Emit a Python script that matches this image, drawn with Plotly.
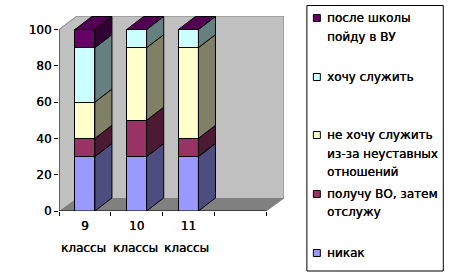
import plotly.graph_objects as go

categories = ["9", "10", "11"]
category_suffix = ["классы", "классы", "классы"]
series_names = ["никак", "получу ВО, затем отслужу", "не хочу служить из-за неуставных отношений", "хочу служить", "после школы пойду в ВУ"]
nikak = [30, 30, 30]
vo = [10, 20, 10]
ne_hochu = [20, 40, 50]
hochu = [30, 10, 10]
vu = [10, 0, 0]
series_values = [nikak, vo, ne_hochu, hochu, vu]
front_colors = ["#9999ff", "#993366", "#ffffcc", "#ccffff", "#660066"]
side_colors = ["#4d4d80", "#4d1a33", "#808066", "#668080", "#330033"]
top_color = "#520052"
y_ticks = [0, 20, 40, 60, 80, 100]
legend_lines = [
    (["после школы", "пойду в ВУ"], [18, 37], "#660066"),
    (["хочу служить"], [77], "#ccffff"),
    (["не хочу служить", "из-за неуставных", "отношений"], [135, 154, 172], "#ffffcc"),
    (["получу ВО, затем", "отслужу"], [194, 212], "#993366"),
    (["никак"], [253], "#9999ff"),
]

W, H = 454, 276
L, T, R, B = 58.5, 16, 284.5, 211
XMAX, YMAX = 4.346, 107.44
DX, DY = 0.33, 7.2
BW = 0.385
FONT = "DejaVu Sans"
SHADOW = "0.3px 0 0 black"
xs = [i + 0.5 for i in range(len(categories))]

fig = go.Figure()
for name, vals, c in zip(series_names, series_values, front_colors):
    fig.add_bar(x=xs, y=vals, name=name, width=BW, marker=dict(color=c, line=dict(color="black", width=1)), showlegend=False)

for xi, x in enumerate(xs):
    base = 0
    xr = x + BW / 2
    xl = x - BW / 2
    for vals, c in zip(series_values, side_colors):
        t = base + vals[xi]
        if vals[xi] > 0:
            fig.add_scatter(x=[xr, xr + DX, xr + DX, xr, xr], y=[base, base + DY, t + DY, t, base], mode="lines", fill="toself",
                            fillcolor=c, line=dict(color="black", width=1), showlegend=False, hoverinfo="skip")
        base = t
    fig.add_scatter(x=[xl, xr, xr + DX, xl + DX, xl], y=[base, base, base + DY, base + DY, base], mode="lines", fill="toself",
                    fillcolor=top_color, line=dict(color="black", width=1), showlegend=False, hoverinfo="skip")

shapes = [
    dict(type="path", layer="below", xref="x", yref="y", path=f"M0,0 L{DX*1.05},{DY} L{DX*1.05},{YMAX} L0,100 Z", fillcolor="#c0c0c0", line=dict(width=0)),
    dict(type="rect", layer="below", xref="x", yref="y", x0=DX*1.05, x1=XMAX, y0=DY, y1=YMAX, fillcolor="#c0c0c0", line=dict(width=0)),
    dict(type="path", layer="below", xref="x", yref="y", path=f"M0,0 L{DX*1.05},{DY} L{XMAX},{DY} L4,0 Z", fillcolor="#808080", line=dict(width=0)),
    dict(type="path", layer="below", xref="x", yref="y", path=f"M0,100 L{DX*1.05},{YMAX} L{XMAX},{YMAX} L{XMAX},{DY} L4,0", line=dict(color="#808080", width=1)),
    dict(type="line", layer="above", xref="x", yref="y", x0=0, x1=0, y0=0, y1=100, line=dict(color="black", width=1)),
    dict(type="line", layer="above", xref="x", yref="y", x0=0, x1=4, y0=0, y1=0, line=dict(color="black", width=1)),
]

def px(v):
    return (v - L) / (R - L)

def py(v):
    return (B - v) / (B - T)

text_font = dict(family=FONT, size=12, color="black", shadow=SHADOW)
shapes.append(dict(type="rect", xref="paper", yref="paper", x0=px(307.5), x1=px(444.5), y0=py(5.5), y1=py(271), line=dict(color="black", width=1), fillcolor="white", layer="below"))
annotations = []
for lines, ys, c in legend_lines:
    shapes.append(dict(type="rect", xref="paper", yref="paper", x0=px(314), x1=px(321), y0=py(ys[0] - 3.5), y1=py(ys[0] + 3.5), fillcolor=c, line=dict(color="black", width=1)))
    for line, y in zip(lines, ys):
        annotations.append(dict(text=line, xref="paper", yref="paper", x=px(326.5), y=py(y), xanchor="left", yanchor="middle", showarrow=False, borderpad=0, font=text_font))
for x, s in zip(xs, category_suffix):
    annotations.append(dict(text=s, xref="x", yref="paper", x=x - 0.03, y=py(248), xanchor="center", yanchor="middle", showarrow=False, borderpad=0, font=text_font))

fig.update_layout(
    width=W, height=H, barmode="stack", paper_bgcolor="white", plot_bgcolor="rgba(0,0,0,0)", showlegend=False,
    margin=dict(l=L, r=W - R, t=T, b=H - B, pad=0),
    font=text_font,
    xaxis=dict(range=[0, XMAX], tickvals=xs, ticktext=categories, ticks="", showgrid=False, zeroline=False, showline=False,
               minor=dict(tick0=0, dtick=1, ticks="outside", ticklen=4, tickcolor="black", showgrid=False), ticklabelstandoff=6),
    yaxis=dict(range=[0, YMAX], tickvals=y_ticks, ticks="outside", ticklen=4, tickcolor="black", showgrid=False, zeroline=False, showline=False),
    shapes=shapes, annotations=annotations,
)
fig.write_html("out.html", config={"displayModeBar": False}, post_script="document.body.style.margin='0';document.documentElement.style.overflow='hidden';")
